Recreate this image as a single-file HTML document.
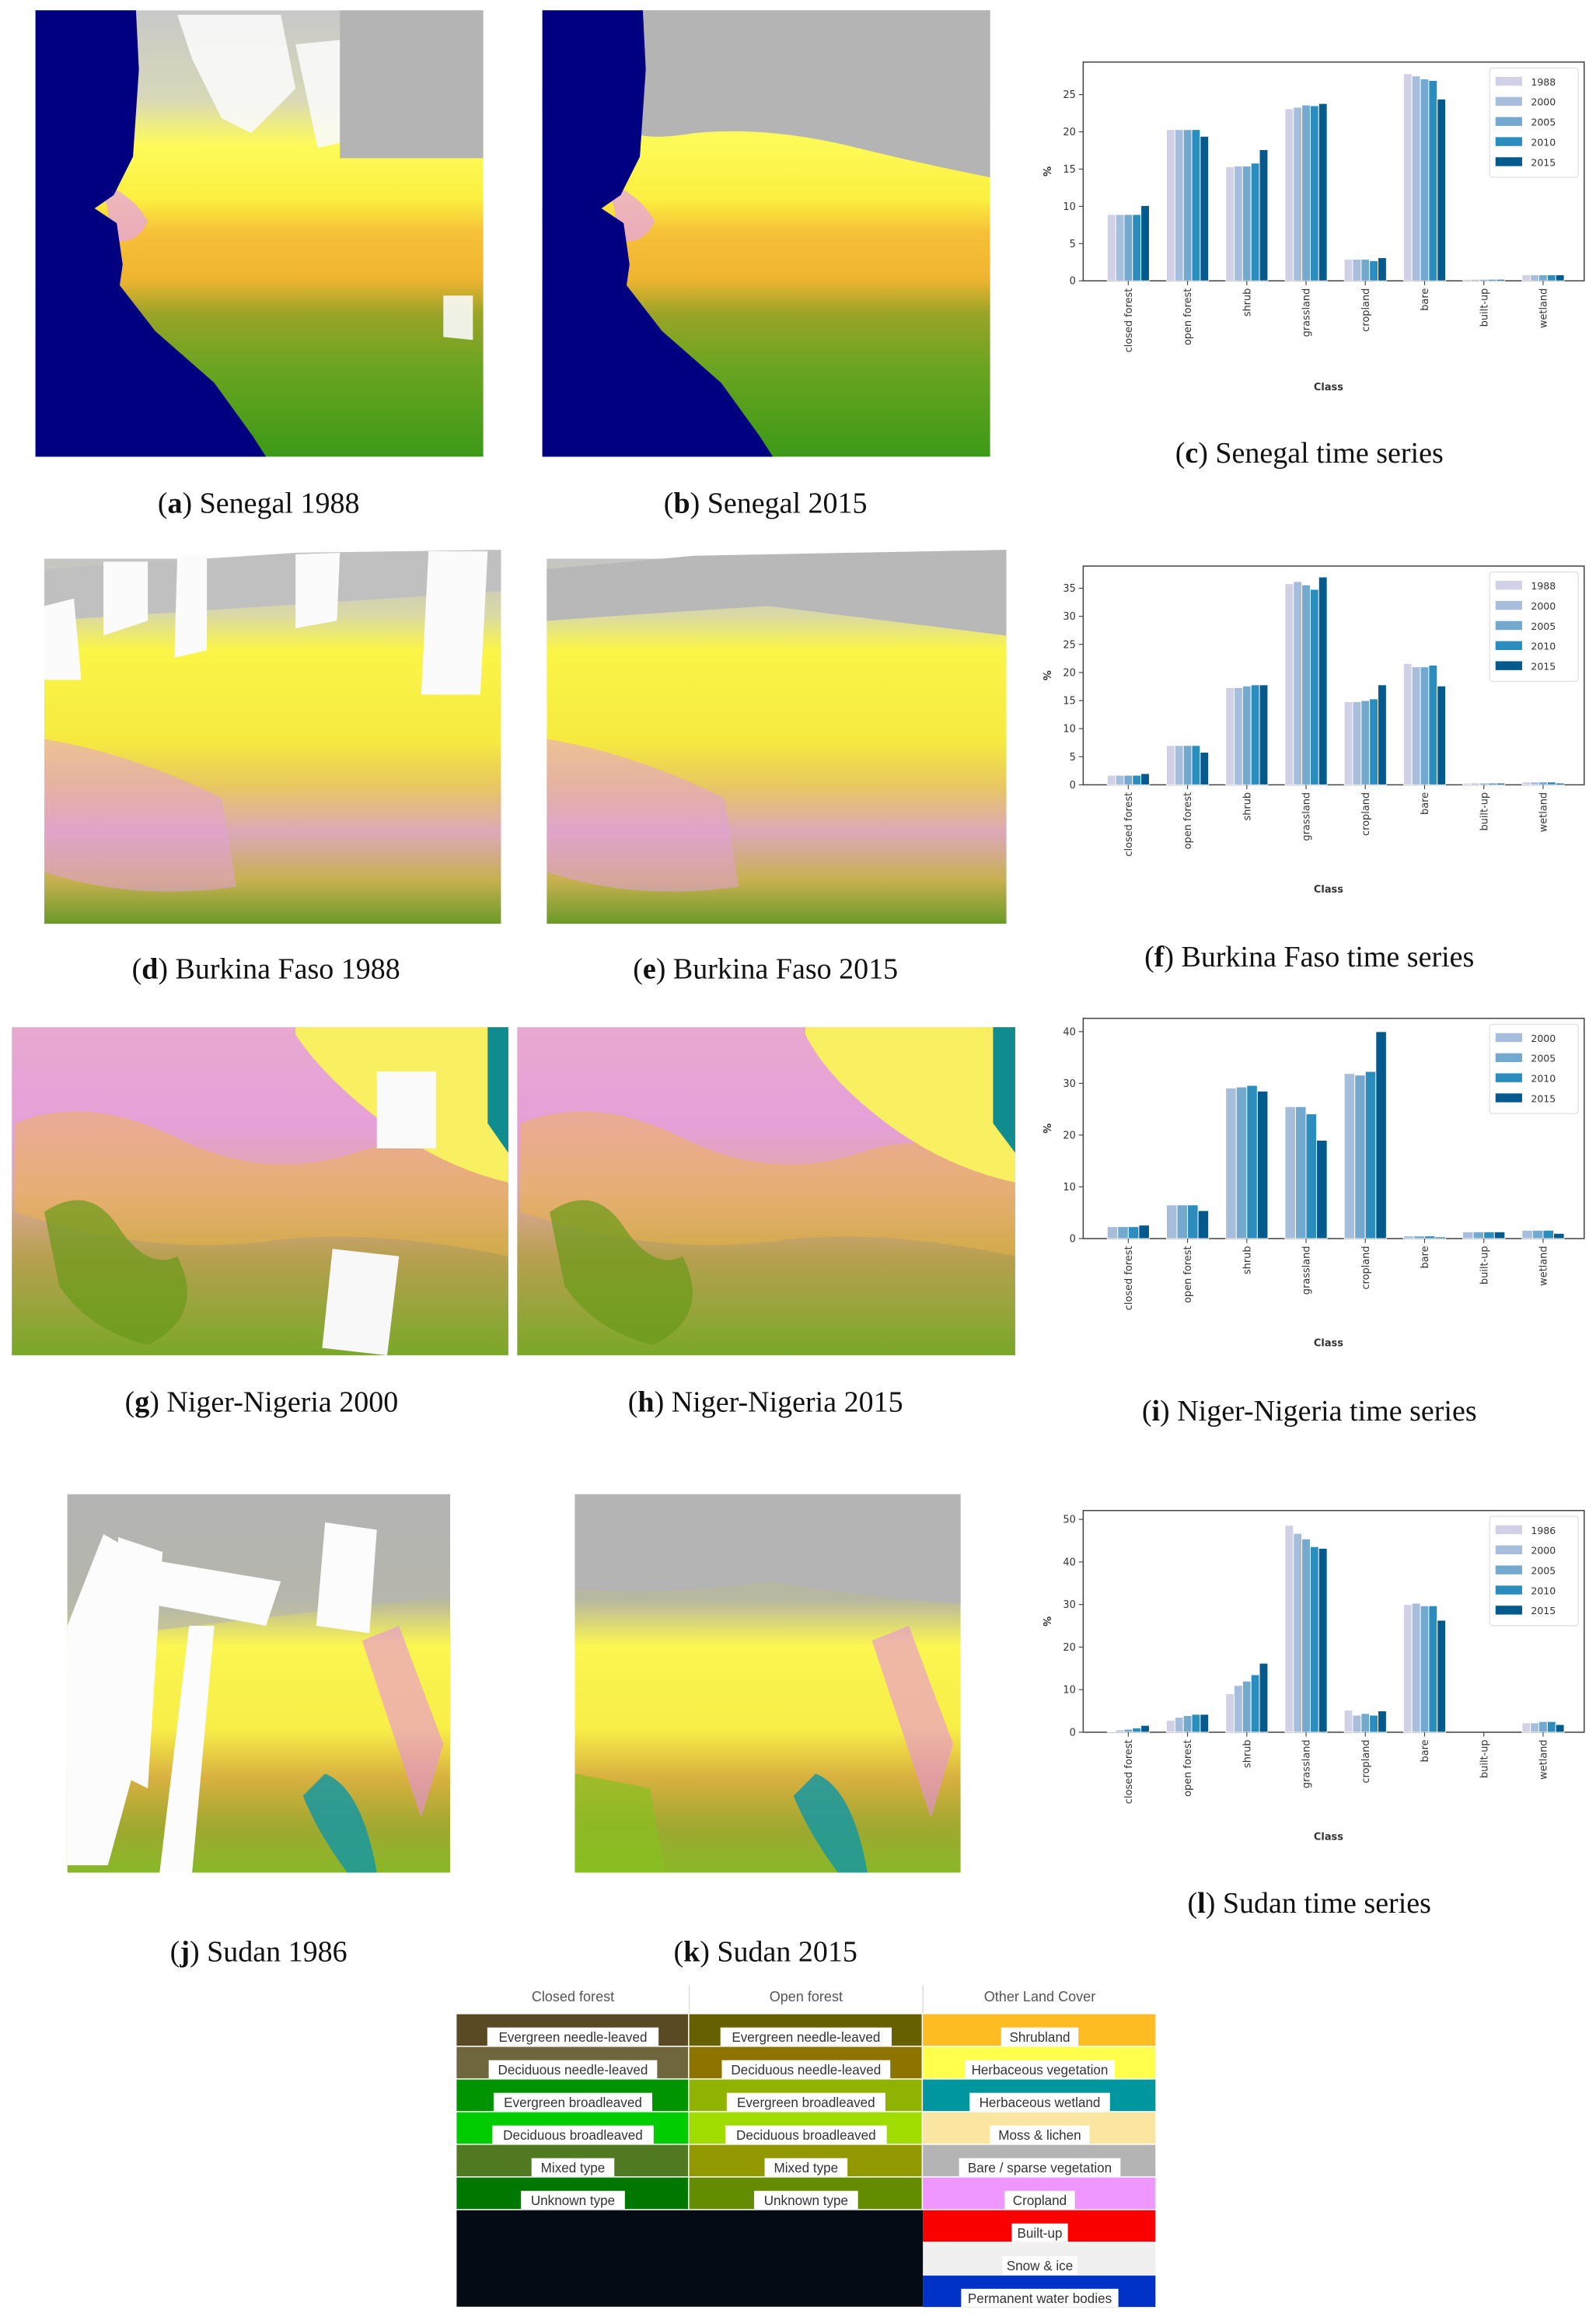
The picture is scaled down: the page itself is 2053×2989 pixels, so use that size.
<!DOCTYPE html>
<html><head><meta charset="utf-8">
<style>
html,body{margin:0;padding:0;background:#fff;}
svg{display:block;}
.cap{font-family:"Liberation Serif",serif;font-size:20px;fill:#111;text-anchor:middle;}
.tk{font-family:"DejaVu Sans","Liberation Sans",sans-serif;font-size:6.8px;fill:#333;}
.lg{font-family:"DejaVu Sans","Liberation Sans",sans-serif;font-size:6.6px;fill:#333;}
.lb{font-family:"Liberation Sans",sans-serif;font-size:9px;fill:#333;text-anchor:middle;}
.hd{font-family:"Liberation Sans",sans-serif;font-size:9.5px;fill:#555;text-anchor:middle;}
</style></head><body>
<svg id="s" width="2053" height="2989" viewBox="0 0 1080 1572.4" preserveAspectRatio="none" xmlns="http://www.w3.org/2000/svg">
<defs>
<linearGradient id="gA" x1="0" y1="0" x2="0" y2="1">
<stop offset="0" stop-color="#c8c8c8"/><stop offset="0.2" stop-color="#d8d8b8"/><stop offset="0.3" stop-color="#fdfb5a"/><stop offset="0.42" stop-color="#fcf040"/><stop offset="0.5" stop-color="#f6c038"/><stop offset="0.6" stop-color="#f0b530"/><stop offset="0.68" stop-color="#9aa428"/><stop offset="0.8" stop-color="#6aa420"/><stop offset="1" stop-color="#3c9a18"/></linearGradient>
<linearGradient id="gB" x1="0" y1="0" x2="0" y2="1">
<stop offset="0" stop-color="#b4b4b4"/><stop offset="0.16" stop-color="#bcbcb0"/><stop offset="0.28" stop-color="#fdfb5a"/><stop offset="0.42" stop-color="#fcf040"/><stop offset="0.5" stop-color="#f6c038"/><stop offset="0.6" stop-color="#f0b530"/><stop offset="0.68" stop-color="#9aa428"/><stop offset="0.8" stop-color="#6aa420"/><stop offset="1" stop-color="#3c9a18"/></linearGradient>
<linearGradient id="gD" x1="0" y1="0" x2="0" y2="1">
<stop offset="0" stop-color="#c4c4c4"/><stop offset="0.15" stop-color="#d8d8a8"/><stop offset="0.25" stop-color="#fbf548"/><stop offset="0.5" stop-color="#f6ea40"/><stop offset="0.62" stop-color="#e8c860"/><stop offset="0.75" stop-color="#dca8b8"/><stop offset="0.88" stop-color="#c8b050"/><stop offset="1" stop-color="#6a9a28"/></linearGradient>
<linearGradient id="gG" x1="0" y1="0" x2="0" y2="1">
<stop offset="0" stop-color="#e8a8d0"/><stop offset="0.3" stop-color="#e6a0d8"/><stop offset="0.5" stop-color="#e0a8a0"/><stop offset="0.7" stop-color="#b8a050"/><stop offset="1" stop-color="#7aa828"/></linearGradient>
<linearGradient id="gK" x1="0" y1="0" x2="0" y2="1">
<stop offset="0" stop-color="#b4b4b4"/><stop offset="0.28" stop-color="#b8b8a0"/><stop offset="0.4" stop-color="#fbf650"/><stop offset="0.62" stop-color="#f8ee48"/><stop offset="0.75" stop-color="#d8b040"/><stop offset="0.88" stop-color="#a0a830"/><stop offset="1" stop-color="#88b828"/></linearGradient>
</defs>
<g id="maps">
<rect x="24" y="7" width="303" height="302" fill="url(#gA)"/>
<path d="M120 10 L190 10 L200 60 L170 90 L150 80 L130 40Z M200 30 L250 25 L260 90 L215 100Z M300 200 L320 200 L320 230 L300 228Z" fill="#fafafa" opacity="0.9"/>
<rect x="230" y="7" width="97" height="100" fill="#b4b4b4"/>
<path d="M60 120 Q80 140 70 160 Q90 170 100 150 Q90 130 60 120Z" fill="#e8a8d8" opacity="0.8"/>
<path d="M24 7 L92 7 L94 47 L90 106 L77 132 L64 141 L79 151 L83 179 L81 193 L105 224 L145 259 L171 295 L180 309 L24 309Z" fill="#000080"/>
<rect x="367" y="7" width="303" height="302" fill="url(#gB)"/>
<path d="M430 7 L670 7 L670 120 Q620 110 580 100 Q520 85 470 90 Q440 95 430 90Z" fill="#b4b4b4"/>
<path d="M403 120 Q423 140 413 160 Q433 170 443 150 Q433 130 403 120Z" fill="#e8a8d8" opacity="0.8"/>
<path d="M367 7 L435 7 L437 47 L433 106 L420 132 L407 141 L422 151 L426 179 L424 193 L448 224 L488 259 L514 295 L523 309 L367 309Z" fill="#000080"/>
<rect x="30" y="378" width="309" height="247" fill="url(#gD)"/>
<path d="M30 385 L200 374 L339 372 L339 400 L30 420Z" fill="#c0c0c0"/>
<path d="M70 380 L100 380 L100 420 L70 430Z M120 376 L140 376 L140 440 L118 445Z M200 375 L230 374 L228 420 L200 425Z M290 373 L330 373 L325 470 L285 470Z M30 410 L50 405 L55 460 L30 460Z" fill="#fbfbfb"/>
<path d="M30 500 Q90 510 150 540 L160 600 Q90 610 30 590Z" fill="#e4a0d8" opacity="0.55"/>
<rect x="370" y="378" width="311" height="247" fill="url(#gD)"/>
<path d="M370 385 L470 376 L681 372 L681 430 Q600 420 520 410 Q440 415 370 420Z" fill="#b8b8b8"/>
<path d="M370 500 Q430 510 490 540 L500 600 Q430 610 370 590Z" fill="#e4a0d8" opacity="0.55"/>
<rect x="8" y="695" width="336" height="222" fill="url(#gG)"/>
<path d="M10 760 Q60 740 120 770 Q180 800 240 780 Q300 760 344 800 L344 850 Q250 830 180 840 Q100 850 10 820Z" fill="#f0b840" opacity="0.45"/>
<path d="M200 695 L344 695 L344 800 Q300 790 260 760 Q220 730 200 700Z" fill="#f8f060"/>
<path d="M330 695 L344 695 L344 780 L330 760Z" fill="#108c90"/>
<rect x="255" y="725" width="40" height="52" fill="#fafafa"/>
<path d="M225 845 L270 850 L262 917 L218 912Z" fill="#f8f8f8"/>
<path d="M30 820 Q60 800 80 830 Q100 860 120 850 Q140 890 100 910 Q60 900 40 870Z" fill="#6a9a18" opacity="0.7"/>
<rect x="350" y="695" width="337" height="222" fill="url(#gG)"/>
<path d="M352 760 Q402 740 462 770 Q522 800 582 780 Q642 760 687 800 L687 850 Q592 830 522 840 Q442 850 352 820Z" fill="#f0b840" opacity="0.45"/>
<path d="M545 695 L687 695 L687 800 Q640 790 600 760 Q560 730 545 700Z" fill="#f8f060"/>
<path d="M672 695 L687 695 L687 780 L672 760Z" fill="#108c90"/>
<path d="M372 820 Q402 800 422 830 Q442 860 462 850 Q482 890 442 910 Q402 900 382 870Z" fill="#6a9a18" opacity="0.7"/>
<rect x="45.6" y="1011" width="259" height="256" fill="url(#gK)"/>
<path d="M45.6 1011 L304.6 1011 L304.6 1080 L45.6 1110Z" fill="#b4b4b4" opacity="0.6"/>
<path d="M70 1038 L100 1055 L90 1200 L73 1262 L45.6 1262 L45.6 1100Z" fill="#fcfcfc"/>
<path d="M80 1040 L110 1050 L100 1210 L80 1200Z" fill="#fcfcfc"/>
<path d="M100 1055 L190 1070 L180 1100 L100 1085Z" fill="#fcfcfc"/>
<path d="M128 1100 L145 1100 L130 1267 L108 1267Z" fill="#fcfcfc"/>
<path d="M220 1030 L255 1035 L250 1105 L214 1100Z" fill="#fcfcfc"/>
<path d="M245 1110 L270 1100 L300 1180 L285 1230Z" fill="#e890e0" opacity="0.6"/>
<path d="M220 1200 Q245 1210 255 1267 L235 1267 Q215 1240 205 1215Z" fill="#1898a0" opacity="0.85"/>
<rect x="389" y="1011" width="261" height="256" fill="url(#gK)"/>
<path d="M389 1011 L650 1011 L650 1085 Q580 1080 520 1070 Q450 1080 389 1075Z" fill="#b4b4b4"/>
<path d="M590 1110 L615 1100 L645 1180 L630 1230Z" fill="#e890e0" opacity="0.6"/>
<path d="M552 1200 Q577 1210 587 1267 L567 1267 Q547 1240 537 1215Z" fill="#1898a0" opacity="0.85"/>
<path d="M389 1200 L440 1210 L450 1267 L389 1267Z" fill="#88c020" opacity="0.7"/>
</g>
<text class="cap" x="175" y="347">(<tspan font-weight="bold">a</tspan>) Senegal 1988</text>
<text class="cap" x="518" y="347">(<tspan font-weight="bold">b</tspan>) Senegal 2015</text>
<text class="cap" x="886" y="313">(<tspan font-weight="bold">c</tspan>) Senegal time series</text>
<text class="cap" x="180" y="662">(<tspan font-weight="bold">d</tspan>) Burkina Faso 1988</text>
<text class="cap" x="518" y="662">(<tspan font-weight="bold">e</tspan>) Burkina Faso 2015</text>
<text class="cap" x="886" y="654">(<tspan font-weight="bold">f</tspan>) Burkina Faso time series</text>
<text class="cap" x="177" y="955">(<tspan font-weight="bold">g</tspan>) Niger-Nigeria 2000</text>
<text class="cap" x="518" y="955">(<tspan font-weight="bold">h</tspan>) Niger-Nigeria 2015</text>
<text class="cap" x="886" y="961">(<tspan font-weight="bold">i</tspan>) Niger-Nigeria time series</text>
<text class="cap" x="175" y="1327">(<tspan font-weight="bold">j</tspan>) Sudan 1986</text>
<text class="cap" x="518" y="1327">(<tspan font-weight="bold">k</tspan>) Sudan 2015</text>
<text class="cap" x="886" y="1294">(<tspan font-weight="bold">l</tspan>) Sudan time series</text>
<g id="charts"></g>
<g id="legend"></g>
</svg>
<script>
var NS="http://www.w3.org/2000/svg";
function el(p,t,a,txt){var e=document.createElementNS(NS,t);for(var k in a)e.setAttribute(k,a[k]);if(txt!==undefined)e.textContent=txt;p.appendChild(e);return e;}
var C=document.getElementById('charts');
var cols5=["#d0d1e6","#a6bddb","#74a9cf","#2b8cbe","#045a8d"];
var cls=["closed forest","open forest","shrub","grassland","cropland","bare","built-up","wetland"];
function chart(o){
 var x0=733,x1=1072,top=o.top,bot=o.bot,sc=(bot-o.tickY)/o.tickV;
 el(C,'rect',{x:x0,y:top,width:x1-x0,height:bot-top,fill:'#fff',stroke:'#444','stroke-width':0.8});
 var n=o.cols.length,gw=28.5,bw=gw/n;
 for(var i=0;i<8;i++){var cx=763.5+i*40.1;
  for(var j=0;j<n;j++){var v=o.d[i][j],h=v*sc;
   if(h>0)el(C,'rect',{x:cx-gw/2+j*bw,y:bot-h,width:bw,height:h,fill:o.cols[j],stroke:'#fff','stroke-width':0.5});}
  el(C,'line',{x1:cx,y1:bot,x2:cx,y2:bot+3,stroke:'#444','stroke-width':0.6});
  el(C,'text',{class:'tk',transform:'translate('+(cx+2.4)+','+(bot+5)+') rotate(-90)','text-anchor':'end'},cls[i]);
 }
 for(var t=0;t<=o.max;t+=o.step){var y=bot-t*sc;
  el(C,'line',{x1:x0-3,y1:y,x2:x0,y2:y,stroke:'#444','stroke-width':0.6});
  el(C,'text',{class:'tk',x:x0-5,y:y+2.4,'text-anchor':'end'},String(t));}
 el(C,'text',{class:'tk',transform:'translate(706,'+((top+bot)/2)+') rotate(90)','text-anchor':'middle','font-weight':'bold'},'%');
 el(C,'text',{class:'tk',x:899,y:o.cls,'text-anchor':'middle','font-weight':'bold'},'Class');
 var ly=o.top+4,lh=o.labels.length*13.6+6;
 el(C,'rect',{x:1008,y:ly,width:60,height:lh,rx:2,fill:'#fff',stroke:'#ddd','stroke-width':0.6});
 for(var k=0;k<o.labels.length;k++){var yy=ly+5+k*13.6;
  el(C,'rect',{x:1012,y:yy+1,width:18,height:6,fill:o.cols[k]});
  el(C,'text',{class:'lg',x:1036,y:yy+6.8},o.labels[k]);}
}
chart({top:42,bot:190,tickY:64,tickV:25,max:25,step:5,cls:264,cols:cols5,labels:["1988","2000","2005","2010","2015"],
 d:[[8.9,8.9,8.9,8.9,10.1],[20.3,20.3,20.3,20.3,19.4],[15.3,15.4,15.4,15.8,17.6],[23.1,23.3,23.6,23.5,23.8],[2.9,2.9,2.9,2.7,3.1],[27.8,27.5,27.1,26.9,24.4],[0.2,0.2,0.2,0.2,0.2],[0.8,0.8,0.8,0.8,0.8]]});
chart({top:383,bot:531,tickY:398,tickV:35,max:35,step:5,cls:604,cols:cols5,labels:["1988","2000","2005","2010","2015"],
 d:[[1.7,1.7,1.7,1.7,2.0],[7,7,7,7,5.8],[17.3,17.3,17.6,17.8,17.8],[35.8,36.2,35.6,34.8,37.0],[14.8,14.8,15,15.3,17.8],[21.6,21,21,21.3,17.6],[0.3,0.3,0.3,0.3,0.3],[0.5,0.5,0.5,0.5,0.3]]});
chart({top:689,bot:838,tickY:698,tickV:40,max:40,step:10,cls:911,cols:cols5.slice(1),labels:["2000","2005","2010","2015"],
 d:[[2.3,2.3,2.3,2.6],[6.5,6.5,6.5,5.4],[29.1,29.3,29.6,28.5],[25.5,25.5,24.1,19],[31.9,31.6,32.3,40],[0.5,0.5,0.5,0.3],[1.3,1.3,1.3,1.3],[1.6,1.6,1.6,1.0]]});
chart({top:1022,bot:1172,tickY:1028,tickV:50,max:50,step:10,cls:1245,cols:cols5,labels:["1986","2000","2005","2010","2015"],
 d:[[0.2,0.5,0.7,1.0,1.6],[2.8,3.5,3.9,4.2,4.2],[9,11,12,13.5,16.2],[48.6,46.7,45.4,43.6,43.2],[5.2,4,4.4,4,5],[30,30.3,29.7,29.7,26.3],[0,0,0,0,0],[2.2,2.2,2.5,2.5,1.8]]});
var L=document.getElementById('legend');
var xs=[309,466.4,624.5,782.7];
var heads=["Closed forest","Open forest","Other Land Cover"];
for(var i=0;i<3;i++)el(L,'text',{class:'hd',x:(xs[i]+xs[i+1])/2,y:1354},heads[i]);
el(L,'line',{x1:466.4,y1:1343,x2:466.4,y2:1362,stroke:'#ddd','stroke-width':0.8});
el(L,'line',{x1:624.5,y1:1343,x2:624.5,y2:1362,stroke:'#ddd','stroke-width':0.8});
var colData=[
 [["#5a4a24","Evergreen needle-leaved",122],["#70663e","Deciduous needle-leaved",120],["#009400","Evergreen broadleaved",113],["#00cc00","Deciduous broadleaved",115],["#507a22","Mixed type",59],["#007800","Unknown type",74]],
 [["#666000","Evergreen needle-leaved",122],["#8d7400","Deciduous needle-leaved",120],["#8fb300","Evergreen broadleaved",113],["#a0dc00","Deciduous broadleaved",115],["#929900","Mixed type",59],["#648c00","Unknown type",74]],
 [["#ffbb22","Shrubland",55],["#ffff4c","Herbaceous vegetation",107],["#0096a0","Herbaceous wetland",100],["#fae6a0","Moss & lichen",71],["#b4b4b4","Bare / sparse vegetation",115],["#f096ff","Cropland",50],["#fa0000","Built-up",40],["#f0f0f0","Snow & ice",53],["#0032c8","Permanent water bodies",112]]];
var rh=22.1,y0=1362.8;
for(var c=0;c<3;c++){var cd=colData[c];
 for(var r=0;r<cd.length;r++){var y=y0+r*rh,cx=(xs[c]+xs[c+1])/2;
  el(L,'rect',{x:xs[c],y:y,width:xs[c+1]-xs[c]-0.8,height:rh-0.8,fill:cd[r][0]});
  var w=cd[r][2]*0.95;
  el(L,'rect',{x:cx-w/2,y:y+9,width:w,height:12.3,fill:'#fff'});
  el(L,'text',{class:'lb',x:cx,y:y+18.7},cd[r][1]);}}
el(L,'rect',{x:309,y:y0+6*rh,width:315.5,height:3*rh-1,fill:'#050b15'});
</script>
</body></html>
